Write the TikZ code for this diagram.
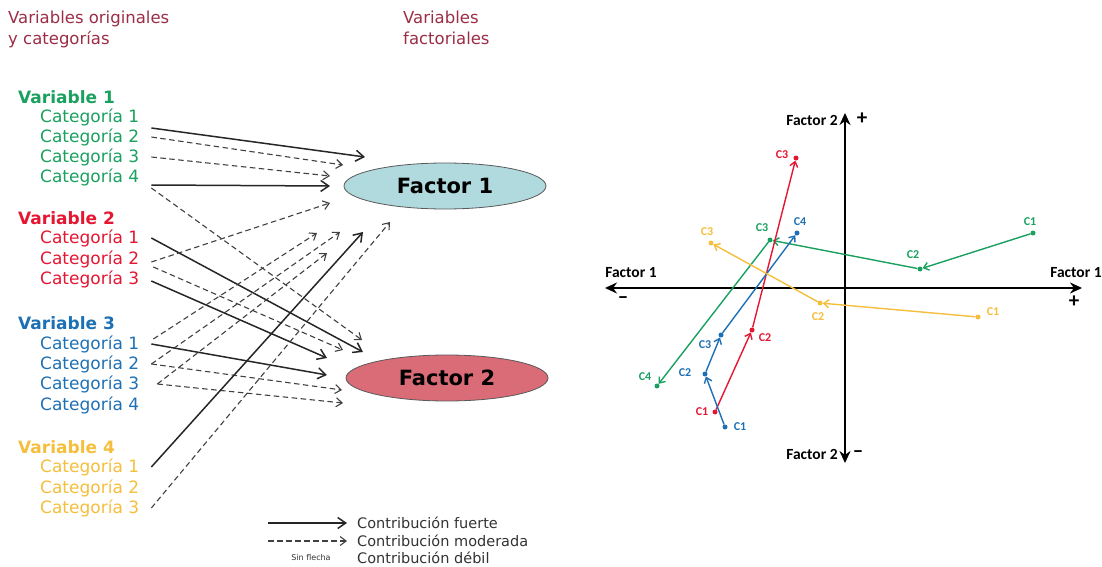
\documentclass[tikz,border=0pt]{standalone}
\usepackage{fontspec}
\setmainfont{DejaVu Sans}
\newfontfamily\plotfont{Carlito}
\usetikzlibrary{arrows.meta,shapes.geometric}

\definecolor{vgreen}{RGB}{26,160,95}
\definecolor{vred}{RGB}{228,22,50}
\definecolor{vblue}{RGB}{30,112,180}
\definecolor{vyellow}{RGB}{245,190,60}
\definecolor{titulo}{RGB}{155,45,70}
\definecolor{fillA}{RGB}{176,218,222}
\definecolor{fillB}{RGB}{218,108,120}

\tikzset{
  fuerte/.style={line width=1.5pt, black!85, -{Straight Barb[length=8pt,width=11pt]}},
  moderada/.style={line width=1.1pt, black!75, dash pattern=on 5.5pt off 3.5pt, -{Straight Barb[length=6pt,width=9pt]}},
  cat/.style={anchor=west, inner sep=0pt, font=\fontsize{17}{20}\selectfont},
  varhead/.style={anchor=west, inner sep=0pt, font=\fontsize{17}{20}\selectfont\bfseries},
  titlebox/.style={anchor=north west, inner sep=0pt, align=left, text=titulo, font=\fontsize{16.5}{21}\selectfont},
  factor/.style={ellipse, draw=black!65, line width=0.8pt, minimum width=202pt, minimum height=46pt, font=\fontsize{21}{24}\selectfont\bfseries},
  legtext/.style={anchor=west, inner sep=0pt, text=black!80, font=\fontsize{14.5}{16}\selectfont},
  eje/.style={line width=2.6pt, {Stealth[length=12pt,width=11pt]}-{Stealth[length=12pt,width=11pt]}},
  ejetext/.style={inner sep=0pt, font=\fontsize{15.5}{16}\selectfont\plotfont\bfseries},
  signo/.style={inner sep=0pt, font=\fontsize{21}{21}\selectfont\plotfont\bfseries},
  serie/.style={line width=1.4pt, -{Straight Barb[length=5pt,width=8pt]}},
  punto/.style={circle, fill, inner sep=0pt, minimum size=5pt},
  etq/.style={inner sep=0pt, font=\fontsize{12}{12}\selectfont\plotfont\bfseries},
}

\begin{document}
\begin{tikzpicture}[x=1pt,y=-1pt]
\useasboundingbox (0,0) rectangle (1102,567);

% titles
\node[titlebox] (torig) at (8,11) {Variables originales\\y categorías};
\node[titlebox] (tfact) at (403,11) {Variables\\factoriales};

% variables and categories
\node[varhead, vgreen] (v1) at (18,97) {Variable 1};
\foreach \n/\y in {1/117,2/137,3/157,4/177}
  \node[cat, vgreen] (v1c\n) at (40,\y) {Categoría \n};
\node[varhead, vred] (v2) at (18,218) {Variable 2};
\foreach \n/\y in {1/238,2/259,3/279}
  \node[cat, vred] (v2c\n) at (40,\y) {Categoría \n};
\node[varhead, vblue] (v3) at (18,323) {Variable 3};
\foreach \n/\y in {1/344,2/364,3/384,4/405}
  \node[cat, vblue] (v3c\n) at (40,\y) {Categoría \n};
\node[varhead, vyellow] (v4) at (18,447) {Variable 4};
\foreach \n/\y in {1/467,2/488,3/508}
  \node[cat, vyellow] (v4c\n) at (40,\y) {Categoría \n};

% factors
\node[factor, fill=fillA] (f1) at (445,186) {Factor 1};
\node[factor, fill=fillB] (f2) at (447,378) {Factor 2};

% contributions
\foreach \src/\dx/\dy/\tx/\ty/\sty [count=\i] in {
  v1c1/12/11/365/157/fuerte, v1c2/12/0/343/165/moderada,
  v1c3/12/0/330/176/moderada, v1c4/12/8/330/186/fuerte,
  v1c4/12/11/362/340/moderada, v2c1/12/0/363/352/fuerte,
  v2c2/12/3/330/203/moderada, v2c2/14/8/343/350/moderada,
  v2c3/12/2/327/358/fuerte, v3c1/12/0/327/375/fuerte,
  v3c1/14/-5/317/233/moderada, v3c2/12/0/340/232/moderada,
  v3c2/12/0/342/390/moderada, v3c3/18/0/327/253/moderada,
  v3c3/18/0/343/403/moderada, v4c1/12/0/363/232/fuerte,
  v4c3/12/0/390/222/moderada}
{
  \coordinate (p\i) at (\tx,\ty);
  \draw[\sty] ([shift={(\dx,\dy)}]\src.east) -- (p\i);
}

% legend
\node[legtext] (lt1) at (357,523) {Contribución fuerte};
\node[legtext] (lt2) at (357,541) {Contribución moderada};
\node[legtext] (lt3) at (357,558) {Contribución débil};
\node[inner sep=0pt, text=black!80, font=\fontsize{8}{9}\selectfont] (sf) at (311,558) {Sin flecha};
\coordinate (ls1) at (268,523);
\coordinate (ls2) at (268,541);
\draw[fuerte] (ls1) -- ([xshift=-10pt]lt1.west);
\draw[moderada] (ls2) -- ([xshift=-10pt]lt2.west);

% factorial plane
\coordinate (ejeI) at (605,288);
\coordinate (ejeD) at (1082,288);
\coordinate (ejeA) at (845,113);
\coordinate (ejeB) at (845,463);
\draw[eje] (ejeI) -- (ejeD);
\draw[eje] (ejeB) -- (ejeA);
\node[ejetext] (x1) at (631,273) {Factor 1};
\node[ejetext] (x2) at (1076,273) {Factor 1};
\node[signo] (xm) at (623,300) {–};
\node[signo] (xp) at (1074,302) {+};
\node[ejetext] (y1) at (812,120) {Factor 2};
\node[signo] (yp) at (862,119) {+};
\node[ejetext] (y2) at (812,454) {Factor 2};
\node[signo] (ym) at (858,454) {–};

% variable 1
\foreach \n/\x/\y in {1/1033/233,2/920/269,3/770/240,4/657/386}
  \node[punto, vgreen] (g\n) at (\x,\y) {};
\draw[serie, vgreen] (g1) -- (g2);
\draw[serie, vgreen] (g2) -- (g3);
\draw[serie, vgreen] (g3) -- (g4);
\node[etq, vgreen] (lg1) at (1030,222) {C1};
\node[etq, vgreen] (lg2) at (913,255) {C2};
\node[etq, vgreen] (lg3) at (762,228) {C3};
\node[etq, vgreen] (lg4) at (645,377) {C4};

% variable 2
\foreach \n/\x/\y in {1/715/412,2/752/330,3/796/158}
  \node[punto, vred] (r\n) at (\x,\y) {};
\draw[serie, vred] (r1) -- (r2);
\draw[serie, vred] (r2) -- (r3);
\node[etq, vred] (lr1) at (702,412) {C1};
\node[etq, vred] (lr2) at (765,338) {C2};
\node[etq, vred] (lr3) at (782,155) {C3};

% variable 3
\foreach \n/\x/\y in {1/725/427,2/705/374,3/721/335,4/797/233}
  \node[punto, vblue] (b\n) at (\x,\y) {};
\draw[serie, vblue] (b1) -- (b2);
\draw[serie, vblue] (b2) -- (b3);
\draw[serie, vblue] (b3) -- (b4);
\node[etq, vblue] (lb1) at (740,427) {C1};
\node[etq, vblue] (lb2) at (685,373) {C2};
\node[etq, vblue] (lb3) at (705,345) {C3};
\node[etq, vblue] (lb4) at (800,222) {C4};

% variable 4
\foreach \n/\x/\y in {1/978/317,2/820/303,3/711/243}
  \node[punto, vyellow] (a\n) at (\x,\y) {};
\draw[serie, vyellow] (a1) -- (a2);
\draw[serie, vyellow] (a2) -- (a3);
\node[etq, vyellow] (la1) at (993,312) {C1};
\node[etq, vyellow] (la2) at (818,317) {C2};
\node[etq, vyellow] (la3) at (707,232) {C3};
\end{tikzpicture}
\end{document}
